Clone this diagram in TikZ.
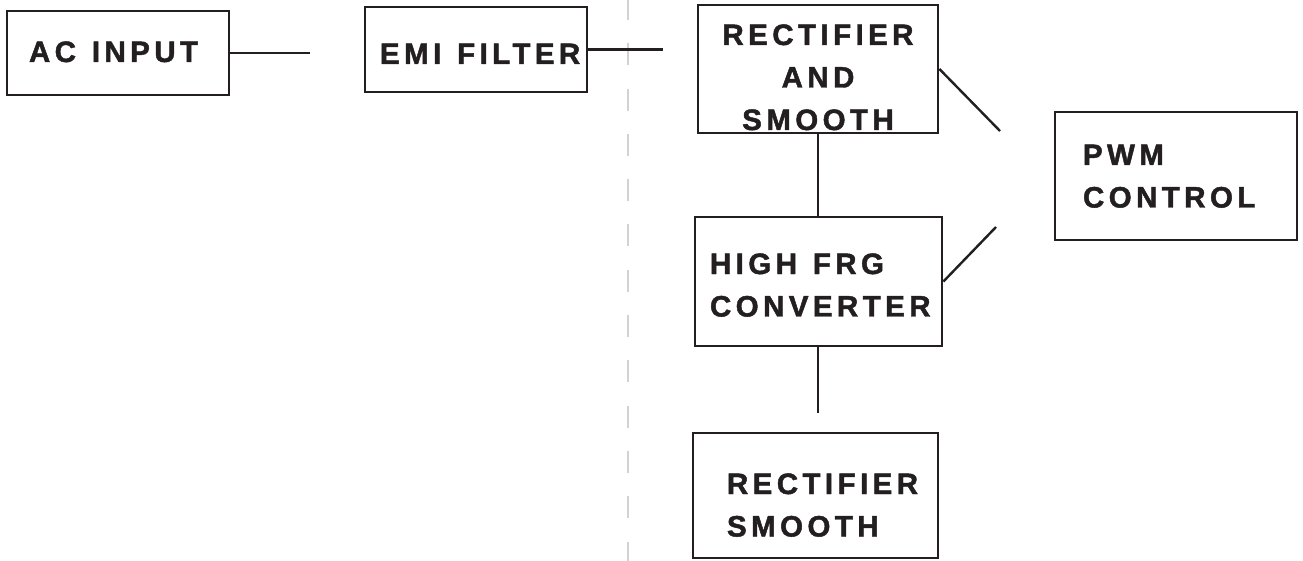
\documentclass[tikz,border=0pt]{standalone}
\usepackage{fontspec}
\newfontfamily\blockfont{Liberation Sans}[LetterSpace=15, UprightFont={* Bold}, FakeBold=1.6]
\newcommand{\wgap}{\hspace{6pt} }
\usetikzlibrary{positioning}
\definecolor{ink}{HTML}{231F20}
\definecolor{guidegray}{HTML}{D2D2D2}

\begin{document}
\begin{tikzpicture}[
    x=1pt, y=-1pt,
    block/.style={rectangle, draw=ink, line width=2.8pt, text=ink, inner ysep=0pt, text height=20pt,
        align=left, font=\blockfont\fontsize{29.5}{42.5}\selectfont},
    wire/.style={draw=ink, line width=2.4pt},
    dashline/.style={draw=guidegray, line width=1.5pt, dash pattern=on 22pt off 23.3pt}
]
\useasboundingbox (0,0) rectangle (1303,561);

% dashed guide
\draw [dashline] (628,-2) -- (628,565);

\node (acin) [block, minimum width=222pt, minimum height=84pt, text width=178pt, inner xsep=22pt, text depth=2pt] at (118,53) {\mbox{AC\wgap INPUT}};
\node (emi) [block, minimum width=222pt, minimum height=85pt, text width=192pt, inner xsep=15pt, text height=29pt, text depth=0pt] at (476,49.5) {\mbox{EMI\wgap FILTER}};
\node (rect) [block, minimum width=240pt, minimum height=128pt, align=center, text width=236pt, inner xsep=2pt, text depth=68pt] at (818,69) {RECTIFIER\\AND\\SMOOTH};
\node (pwm) [block, minimum width=242pt, minimum height=128pt, text width=186pt, inner xsep=28pt, text depth=42pt] at (1176,176) {PWM\\CONTROL};
\node (hfc) [block, minimum width=247pt, minimum height=129pt, text width=217pt, inner xsep=15pt, text depth=35pt] at (818.5,281.5) {\mbox{HIGH\wgap FRG}\\CONVERTER};
\node (rs) [block, minimum width=245pt, minimum height=125pt, text width=177pt, inner xsep=34pt, text depth=23pt] at (815.5,495.5) {RECTIFIER\\SMOOTH};

% free ends
\coordinate (acend) at (310,53);
\coordinate (emiend) at (663,49.5);
\coordinate (pwmup) at (1000,131);
\coordinate (pwmdn) at (996,227);
\coordinate (hfcout) at (818,413);

\draw [wire] (acin.east) -- (acend);
\draw [wire] (emi.east) -- (emiend);
\draw [wire] (rect.east) -- (pwmup);
\draw [wire] (hfc.east) -- (pwmdn);
\draw [wire] (rect.south) -- (rect.south |- hfc.north);
\draw [wire] (hfc.south -| rect.south) -- (hfcout);

\end{tikzpicture}
\end{document}
